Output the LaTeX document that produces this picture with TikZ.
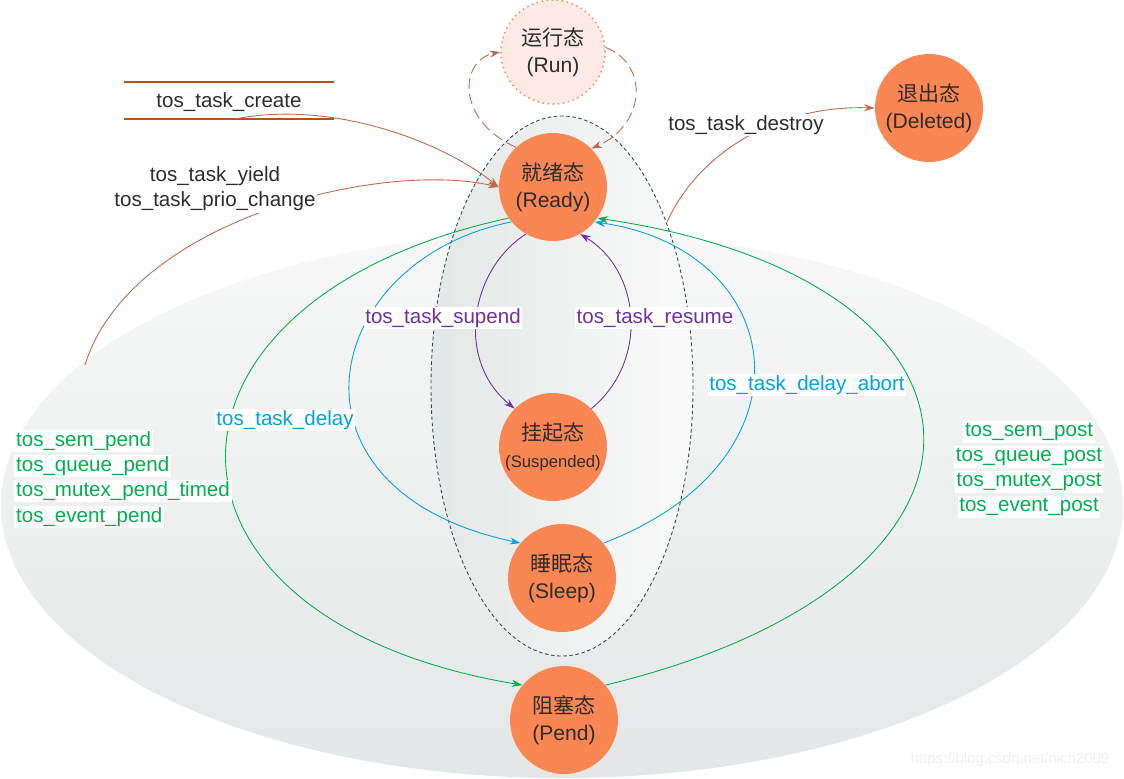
\documentclass[tikz,border=0pt]{standalone}
\usepackage{fontspec}
\setmainfont{Liberation Sans}
\newfontfamily\cjk{Noto Sans CJK SC}
\usetikzlibrary{arrows.meta}
\definecolor{stateorange}{RGB}{250,134,84}
\definecolor{statetext}{RGB}{45,45,45}
\definecolor{runfill}{RGB}{253,234,228}
\definecolor{rundraw}{RGB}{244,150,115}
\definecolor{taskbrown}{RGB}{192,104,76}
\definecolor{barbrown}{RGB}{181,82,26}
\definecolor{suspurple}{RGB}{112,48,160}
\definecolor{delayblue}{RGB}{0,162,232}
\definecolor{pendgreen}{RGB}{0,176,80}
\definecolor{ringgray}{RGB}{55,71,79}
\definecolor{bggray}{RGB}{228,231,231}

\begin{document}
\begin{tikzpicture}[x=0.02cm, y=-0.02cm, >={Stealth[length=6pt, width=4pt]},
	state/.style={circle, fill=stateorange, minimum size=2.16cm, inner sep=0pt, align=center, text=statetext, font=\fontsize{12}{15.5}\selectfont},
	fnlabel/.style={fill=white, inner sep=1pt, text=statetext, font=\fontsize{11.7}{14.2}\selectfont},
	conn/.style={->, line width=0.5pt}]
	\useasboundingbox (0,0) rectangle (1124,778);

	% background rings
	\shade[top color=gray!6, bottom color=bggray] (562,505) ellipse [x radius=561, y radius=273];
	\shade[left color=bggray, right color=gray!4, draw=ringgray, dash pattern=on 2pt off 1.5pt, line width=0.5pt] (562,386) ellipse [x radius=131, y radius=270];

	% create bars
	\draw[barbrown, line width=1.6pt] (124,82) -- (334,82) (124,119) -- (334,119);
	\coordinate (createout) at (235,119);
	\coordinate (yieldstart) at (85,365);
	\coordinate (destroystart) at (667,222);

	% states
	\node[state, fill=runfill, draw=rundraw, dotted, line width=0.9pt, minimum size=2.08cm] (run) at (553,52) {{\cjk 运行态}\\(Run)};
	\node[state] (ready) at (553,187) {{\cjk 就绪态}\\(Ready)};
	\node[state] (deleted) at (929,108) {{\cjk 退出态}\\(Deleted)};
	\node[state] (suspended) at (553,447) {{\cjk 挂起态}\\{\fontsize{9.5}{13}\selectfont(Suspended)}};
	\node[state] (sleep) at (562,578) {{\cjk 睡眠态}\\(Sleep)};
	\node[state] (pend) at (564,720) {{\cjk 阻塞态}\\(Pend)};

	% run <-> ready
	\draw[conn, taskbrown, dash pattern=on 6pt off 3pt] (ready.133) .. controls (455,120) and (460,60) .. (run.180);
	\draw[conn, taskbrown, dash pattern=on 6pt off 3pt] (run.5) .. controls (650,65) and (645,125) .. (ready.45);

	% create, yield, destroy
	\draw[conn, taskbrown] (createout) .. controls (330,100) and (440,140) .. (ready.west);
	\draw[conn, taskbrown] (yieldstart) .. controls (130,220) and (380,160) .. (ready.west);
	\draw[conn, taskbrown] (destroystart) .. controls (700,150) and (780,105) .. (deleted.west);

	% suspend / resume
	\draw[conn, suspurple] (ready.-120) .. controls (470,270) and (455,360) .. (suspended.135);
	\draw[conn, suspurple] (suspended.45) .. controls (650,360) and (640,270) .. (ready.-60);

	% delay / abort
	\draw[conn, delayblue] (ready.-140) .. controls (320,260) and (270,490) .. (sleep.140);
	\draw[conn, delayblue] (sleep.40) .. controls (820,460) and (790,250) .. (ready.-40);

	% pend / post
	\draw[conn, pendgreen] (ready.-145) .. controls (130,300) and (130,620) .. (pend.140);
	\draw[conn, pendgreen] (pend.40) .. controls (1040,580) and (1020,280) .. (ready.-35);

	% labels
	\node[fnlabel, fill=none] (create) at (229,102) {tos\_task\_create};
	\node[fnlabel, align=center] (yield) at (215,189) {tos\_task\_yield\\tos\_task\_prio\_change};
	\node[fnlabel] (destroy) at (746,125) {tos\_task\_destroy};
	\node[fnlabel, text=suspurple] (supend) at (443,318) {tos\_task\_supend};
	\node[fnlabel, text=suspurple] (resume) at (655,318) {tos\_task\_resume};
	\node[fnlabel, text=delayblue] (delay) at (285,420) {tos\_task\_delay};
	\node[fnlabel, text=delayblue] (abort) at (807,385) {tos\_task\_delay\_abort};

	\node[fnlabel, text=pendgreen, anchor=west] (sempend) at (14,441) {tos\_sem\_pend};
	\node[fnlabel, text=pendgreen, anchor=west] (queuepend) at (14,466) {tos\_queue\_pend};
	\node[fnlabel, text=pendgreen, anchor=west] (mutexpend) at (14,491) {tos\_mutex\_pend\_timed};
	\node[fnlabel, text=pendgreen, anchor=west] (eventpend) at (14,517) {tos\_event\_pend};

	\node[fnlabel, text=pendgreen] (sempost) at (1029,432) {tos\_sem\_post};
	\node[fnlabel, text=pendgreen] (queuepost) at (1029,457) {tos\_queue\_post};
	\node[fnlabel, text=pendgreen] (mutexpost) at (1029,482) {tos\_mutex\_post};
	\node[fnlabel, text=pendgreen] (eventpost) at (1029,507) {tos\_event\_post};

	\node[text=gray!12, font=\fontsize{8.5}{10}\selectfont] (mark) at (1010,760) {https://blog.csdn.net/nich2009};
\end{tikzpicture}
\end{document}
